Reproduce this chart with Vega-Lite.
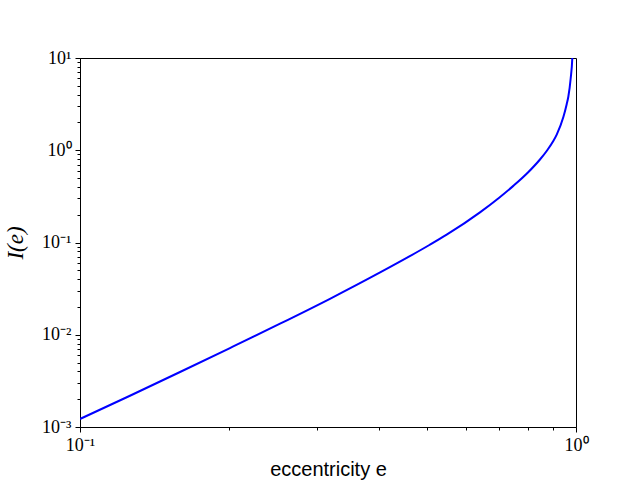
{
  "$schema": "https://vega.github.io/schema/vega-lite/v6.json",
  "width": 496,
  "height": 369,
  "autosize": {"type": "none"},
  "padding": {"left": 80, "top": 58, "right": 64, "bottom": 53},
  "background": "white",
  "config": {
    "view": {"stroke": "black", "strokeWidth": 1},
    "axis": {
      "domainColor": "black",
      "tickColor": "black",
      "grid": false,
      "labelColor": "black",
      "titleColor": "black",
      "labelFont": "Liberation Serif",
      "labelFontSize": 18,
      "labelPadding": 4,
      "labelFlush": false,
      "labelOverlap": false
    }
  },
  "data": {
    "values": [
      {"e": 0.1, "I": 0.001222},
      {"e": 0.1261, "I": 0.002183},
      {"e": 0.1591, "I": 0.003945},
      {"e": 0.2006, "I": 0.007178},
      {"e": 0.2531, "I": 0.01318},
      {"e": 0.3191, "I": 0.02455},
      {"e": 0.4019, "I": 0.0471},
      {"e": 0.5063, "I": 0.09397},
      {"e": 0.5486, "I": 0.1216},
      {"e": 0.6403, "I": 0.2123},
      {"e": 0.7, "I": 0.306},
      {"e": 0.7475, "I": 0.411},
      {"e": 0.8, "I": 0.574},
      {"e": 0.846, "I": 0.794},
      {"e": 0.875, "I": 1.0},
      {"e": 0.9, "I": 1.259},
      {"e": 0.9144, "I": 1.479},
      {"e": 0.943, "I": 2.29},
      {"e": 0.9577, "I": 3.16},
      {"e": 0.965, "I": 3.80},
      {"e": 0.9757, "I": 6.03},
      {"e": 0.983, "I": 10.0},
      {"e": 0.986, "I": 15.8}
    ]
  },
  "mark": {"type": "line", "color": "#0000ff", "strokeWidth": 2, "clip": true, "interpolate": "monotone"},
  "encoding": {
    "x": {
      "field": "e",
      "type": "quantitative",
      "scale": {"type": "log", "domain": [0.1, 1.0], "nice": false},
      "axis": {
        "title": "eccentricity e",
        "titleFont": "Liberation Sans",
        "titleFontSize": 20,
        "titleFontWeight": "normal",
        "titlePadding": 5,
        "values": [0.1, 0.2, 0.3, 0.4, 0.5, 0.6, 0.7, 0.8, 0.9, 1.0],
        "tickSize": {"condition": {"test": "abs(log(datum.value)/LN10 - round(log(datum.value)/LN10)) < 0.000001", "value": 5}, "value": 3},
        "labelExpr": "abs(datum.value - 0.1) < 0.00001 ? '10⁻¹' : (abs(datum.value - 1) < 0.00001 ? '10⁰' : '')"
      }
    },
    "y": {
      "field": "I",
      "type": "quantitative",
      "scale": {"type": "log", "domain": [0.001, 10], "nice": false},
      "axis": {
        "title": "I(e)",
        "titleFont": "Liberation Serif",
        "titleFontStyle": "italic",
        "titleFontSize": 23,
        "titleFontWeight": "normal",
        "titlePadding": 14,
        "values": [0.001, 0.002, 0.003, 0.004, 0.005, 0.006, 0.007, 0.008, 0.009, 0.01, 0.02, 0.03, 0.04, 0.05, 0.06, 0.07, 0.08, 0.09, 0.1, 0.2, 0.3, 0.4, 0.5, 0.6, 0.7, 0.8, 0.9, 1, 2, 3, 4, 5, 6, 7, 8, 9, 10],
        "tickSize": {"condition": {"test": "abs(log(datum.value)/LN10 - round(log(datum.value)/LN10)) < 0.000001", "value": 5}, "value": 3},
        "labelExpr": "abs(log(datum.value)/LN10 - round(log(datum.value)/LN10)) < 0.000001 ? (round(log(datum.value)/LN10) == -3 ? '10⁻³' : round(log(datum.value)/LN10) == -2 ? '10⁻²' : round(log(datum.value)/LN10) == -1 ? '10⁻¹' : round(log(datum.value)/LN10) == 0 ? '10⁰' : '10¹') : ''"
      }
    }
  }
}
